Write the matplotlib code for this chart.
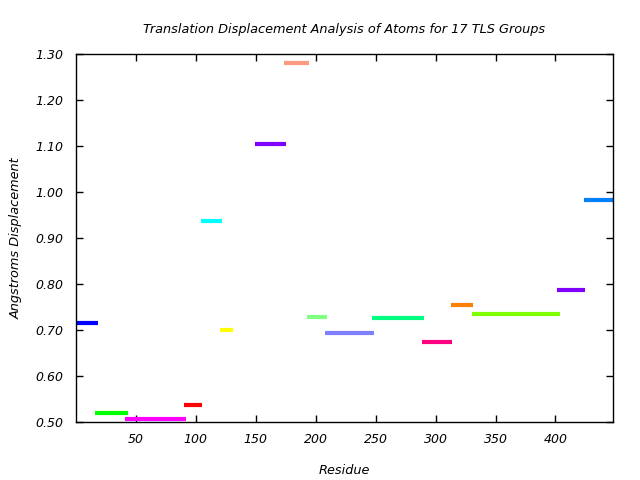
import matplotlib
matplotlib.use("Agg")
import matplotlib.pyplot as plt

starts = [0, 16, 41, 90, 104, 120, 149.5, 173.5, 192.5, 208, 247, 288.5, 312.5, 330, 401.5, 424]
ends = [18, 43, 92, 105, 122, 131, 175, 194.5, 209.5, 249, 290, 314, 331, 403.5, 425, 450]
values = [0.715, 0.519, 0.506, 0.536, 0.936, 0.701, 1.104, 1.280, 0.728, 0.693, 0.725, 0.673, 0.754, 0.734, 0.788, 0.982]
colors = ["#0000ff", "#00ff00", "#ff00ff", "#ff0000", "#00ffff", "#ffff00", "#7f00ff", "#ff9980",
          "#80ff80", "#8080ff", "#00ff80", "#ff0080", "#ff8000", "#80ff00", "#8000ff", "#0080ff"]
xticks = [50, 100, 150, 200, 250, 300, 350, 400]
yticks = [0.5, 0.6, 0.7, 0.8, 0.9, 1.0, 1.1, 1.2, 1.3]

fig = plt.figure(figsize=(6.4, 4.8), dpi=100)
ax = fig.add_axes([76/640, 58/480, (613-76)/640, (422-54)/480])
for s, e, v, c in zip(starts, ends, values, colors):
    ax.plot([s, e], [v, v], color=c, lw=3, solid_capstyle="butt")

ax.set_xlim(0, 448)
ax.set_ylim(0.5, 1.3)
ax.set_xticks(xticks)
ax.set_xticklabels([str(t) for t in xticks], fontstyle="italic", fontsize=9)
ax.set_yticks(yticks)
ax.set_yticklabels([f"{t:.2f}" for t in yticks], fontstyle="italic", fontsize=9)
ax.tick_params(direction="in", top=True, right=True, length=5, width=1)
ax.tick_params(axis="y", pad=9)
ax.tick_params(axis="x", pad=8)
for sp in ax.spines.values():
    sp.set_linewidth(1)
ax.set_title("Translation Displacement Analysis of Atoms for 17 TLS Groups",
             fontstyle="italic", fontsize=9.3, pad=15)
ax.set_xlabel("Residue", fontstyle="italic", fontsize=9.3, labelpad=13)
ax.set_ylabel("Angstroms Displacement", fontstyle="italic", fontsize=9.3, labelpad=9)
fig.savefig("out.png", dpi=100)
